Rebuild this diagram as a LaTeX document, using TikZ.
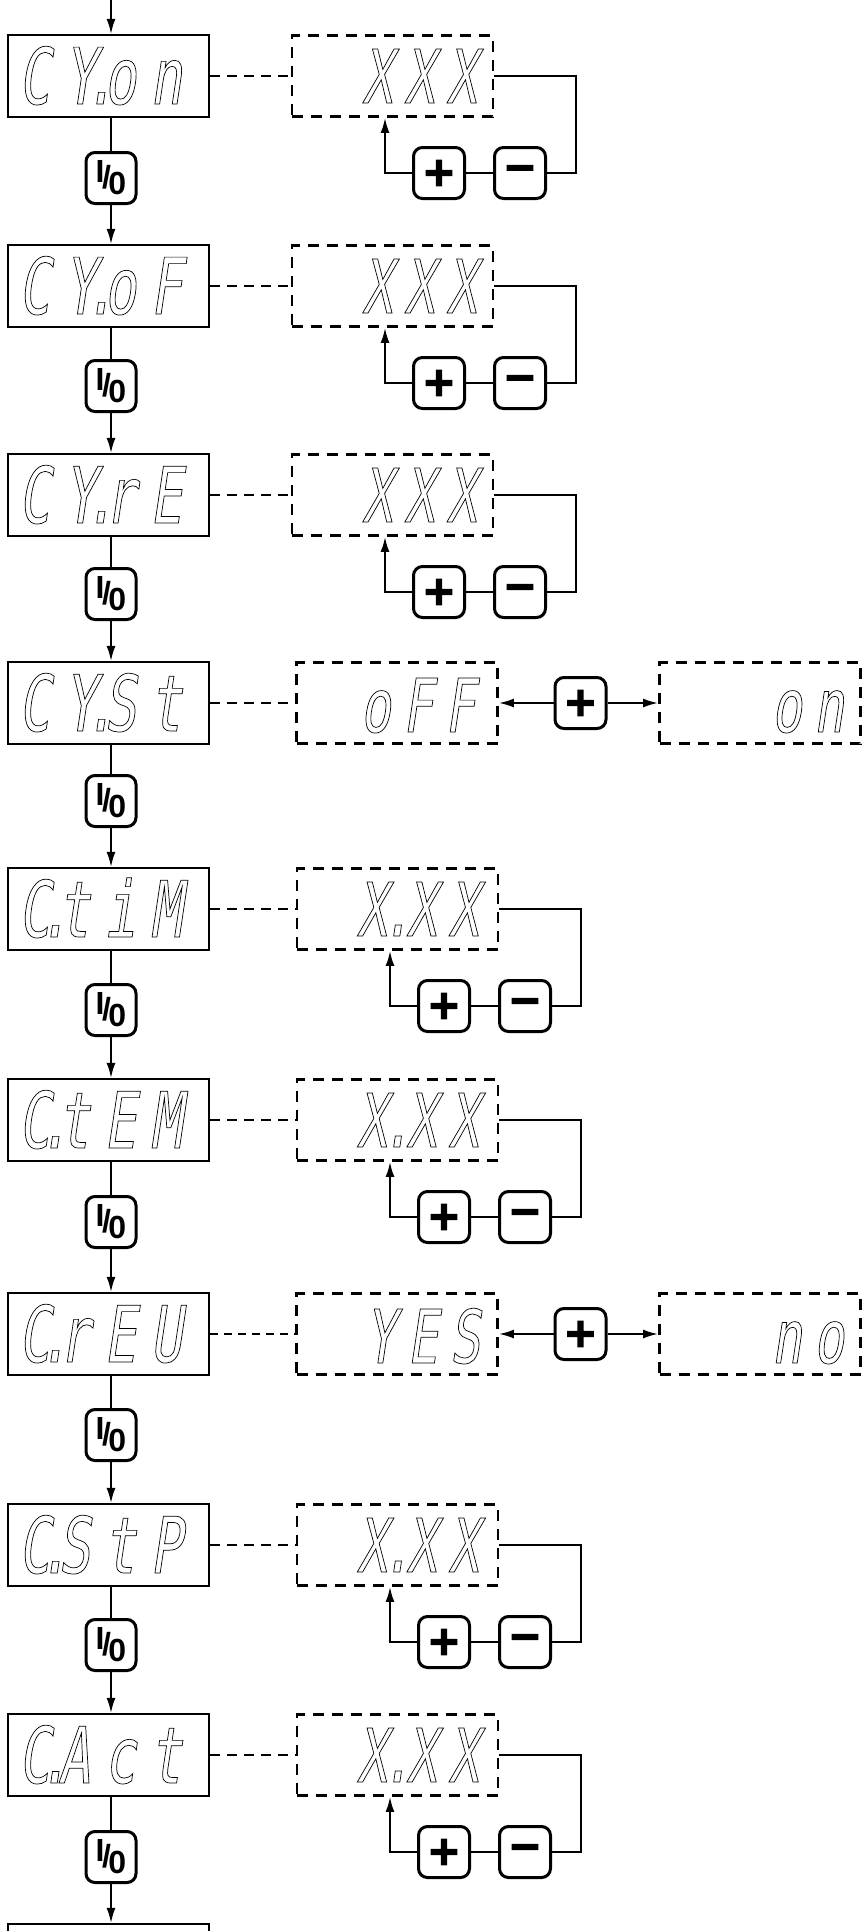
\documentclass[tikz,border=0pt]{standalone}
\usepackage{fontspec}
\usetikzlibrary{arrows.meta}
\newfontfamily\segmfont[FakeSlant=0.15,FakeStretch=0.68,LetterSpace=18]{DejaVu Sans Mono}
\newfontfamily\segvfont[FakeSlant=0.15,FakeStretch=0.68,LetterSpace=16]{DejaVu Sans Mono}
\newfontfamily\keyfont{Liberation Sans}
\newfontfamily\btnfont{DejaVu Sans}
\newcommand\outl[1]{\special{pdf:code 1 Tr 0.7 w}#1\special{pdf:code 0 Tr}}
\newcommand\heavy[1]{\special{pdf:code 2 Tr 1.6 w}#1\special{pdf:code 0 Tr}}
\newcommand\dotp{\makebox[0.1em]{.}}
\newcommand\dotv{\makebox[0.26em]{.}}
\newcommand\keylabel{\raisebox{6pt}{I}\kern-2.5pt/\kern-2.5pt\raisebox{-6pt}{0}}
\tikzset{
  mainbox/.style={draw, line width=2.2pt, minimum width=201pt, minimum height=82pt, inner sep=0pt},
  valbox/.style={draw, line width=2.8pt, dash pattern=on 11pt off 8pt, minimum width=201pt, minimum height=81pt, inner sep=0pt},
  keybox/.style={draw, line width=3pt, rounded corners=9pt, minimum width=50pt, minimum height=51pt, inner sep=0pt, font=\keyfont\bfseries\fontsize{32}{32}\selectfont},
  btn/.style={draw, line width=3pt, rounded corners=9pt, minimum width=51pt, minimum height=51pt, inner sep=0pt, font=\btnfont\bfseries\fontsize{40}{40}\selectfont},
  segmain/.style={inner sep=0pt, font=\segmfont\fontsize{78}{78}\selectfont},
  segval/.style={inner sep=0pt, font=\segvfont\fontsize{74}{74}\selectfont},
  flow/.style={line width=1.8pt},
  flowarr/.style={line width=1.8pt, -{Latex[length=15pt,width=9pt]}},
  link/.style={line width=2.6pt, dash pattern=on 10pt off 7pt},
  thinlink/.style={line width=1.5pt, dash pattern=on 8pt off 6pt},
  loopline/.style={line width=2pt},
  looparr/.style={line width=2pt, -{Latex[length=15pt,width=9pt]}},
}
\newcommand\mainrow[3]{%
  \node[mainbox] (m#1) at (108.5,{#2+41}) {};
  \node[segmain, anchor=base west] (mt#1) at (18,{#2+69}) {\outl{#3}};
}
\newcommand\valrow[5]{%
  \node[valbox] (v#1) at ({#3+100.5},{#2+41}) {};
  \node[segval, anchor=base east] (vt#1) at (#5,{#2+68}) {\outl{#4}};
  \node[btn] (pl#1) at ({#3+147},{#2+138}) {\heavy{+}};
  \node[btn] (mi#1) at ({#3+228},{#2+138}) {\heavy{−}};
  \coordinate (r#1) at ({#3+284},{#2+41});
  \coordinate (a#1) at ({#3+93},{#2+138});
  \draw[link] (m#1.east) -- (v#1.west);
  \draw[loopline] (v#1.east) -- (r#1) |- (mi#1.east);
  \draw[loopline] (mi#1.west) -- (pl#1.east);
  \draw[looparr] (pl#1.west) -- (a#1) -- (a#1 |- v#1.south);
}
\newcommand\togrow[7]{%
  \node[valbox] (o#1) at (397,{#2+41}) {};
  \node[valbox] (n#1) at (760,{#2+41}) {};
  \node[btn] (p#1) at (580.5,{#2+41}) {\heavy{+}};
  \node[segval, anchor=base east] (ot#1) at (#4,{#2+70}) {\outl{#3}};
  \node[segval, anchor=base east] (nt#1) at (#6,{#2+70}) {\outl{#5}};
  \draw[#7] (m#1.east) -- (o#1.west);
  \draw[looparr] (p#1.west) -- (o#1.east);
  \draw[looparr] (p#1.east) -- (n#1.west);
}
\newcommand\keyrow[4]{% id, y, from main, to main
  \node[keybox] (k#1) at (111,#2) {\keylabel};
  \draw[flow] (m#3.south -| k#1) -- (k#1.north);
  \draw[flowarr] (k#1.south) -- (k#1 |- m#4.north);
}
\begin{document}
\begin{tikzpicture}[x=1pt,y=-1pt]
\useasboundingbox (0,0) rectangle (862,1931);
\clip (0,0) rectangle (862,1931);
% main display boxes
\mainrow{1}{35}{CY\dotp on}
\mainrow{2}{245}{CY\dotp oF}
\mainrow{3}{454}{CY\dotp rE}
\mainrow{4}{662}{CY\dotp St}
\mainrow{5}{868}{C\dotp tiM}
\mainrow{6}{1079}{C\dotp tEM}
\mainrow{7}{1293}{C\dotp rEU}
\mainrow{8}{1504}{C\dotp StP}
\mainrow{9}{1714}{C\dotp Act}
\node[mainbox] (m10) at (108.5,1965) {};
% entry arrow
\coordinate (top) at (111,0);
\draw[flowarr] (top) -- (top |- m1.north);
% value rows
\valrow{1}{35}{292}{XXX}{477}
\valrow{2}{245}{292}{XXX}{477}
\valrow{3}{454}{292}{XXX}{477}
\togrow{4}{662}{oFF}{475}{on}{844}{link}
\valrow{5}{868}{297}{X\dotv XX}{479}
\valrow{6}{1079}{297}{X\dotv XX}{479}
\togrow{7}{1293}{YES}{480}{no}{844}{thinlink}
\valrow{8}{1504}{297}{X\dotv XX}{479}
\valrow{9}{1714}{297}{X\dotv XX}{479}
% keys
\keyrow{1}{178}{1}{2}
\keyrow{2}{386}{2}{3}
\keyrow{3}{594}{3}{4}
\keyrow{4}{801}{4}{5}
\keyrow{5}{1010}{5}{6}
\keyrow{6}{1222}{6}{7}
\keyrow{7}{1435}{7}{8}
\keyrow{8}{1645}{8}{9}
\keyrow{9}{1857}{9}{10}
\end{tikzpicture}
\end{document}
